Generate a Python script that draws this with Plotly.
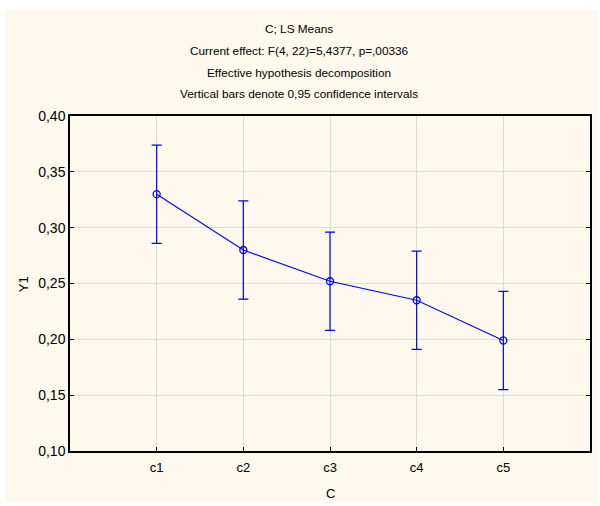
import plotly.graph_objects as go

# LS means of Y1 for each level of factor C, with 95% confidence limits
categories = ["c1", "c2", "c3", "c4", "c5"]
means = [0.330, 0.280, 0.252, 0.235, 0.199]
upper = [0.374, 0.324, 0.296, 0.279, 0.243]
lower = [0.286, 0.236, 0.208, 0.191, 0.155]
y_ticks = [0.10, 0.15, 0.20, 0.25, 0.30, 0.35, 0.40]

title_lines = [
    "C; LS Means",
    "Current effect: F(4, 22)=5,4377, p=,00336",
    "Effective hypothesis decomposition",
    "Vertical bars denote 0,95 confidence intervals",
]
x_title = "C"
y_title = "Y1"

x_pos = list(range(1, len(categories) + 1))
err_plus = [u - m for u, m in zip(upper, means)]
err_minus = [m - l for m, l in zip(means, lower)]

W, H = 600, 506
ML, MR, MT, MB = 70, 8, 116, 55
pw, ph = W - ML - MR, H - MT - MB

def px_x(v):
    return (v - ML) / pw

def px_y(v):
    return (H - MB - v) / ph

BLUE = "#0000FF"
FONT = "Liberation Sans, Arial, sans-serif"

fig = go.Figure()
fig.add_trace(go.Scatter(
    x=x_pos, y=means,
    mode="lines+markers",
    line=dict(color=BLUE, width=1.1),
    marker=dict(symbol="circle-open", size=7, color=BLUE, line=dict(width=1.3, color=BLUE)),
    error_y=dict(type="data", symmetric=False, array=err_plus, arrayminus=err_minus,
                 color=BLUE, thickness=1.2, width=5),
    showlegend=False,
    hoverinfo="skip",
))

# cream panel behind the whole chart
fig.add_shape(type="rect", xref="paper", yref="paper", layer="below",
              x0=px_x(5), x1=px_x(600), y0=px_y(503), y1=px_y(10),
              fillcolor="#FDF9EE", line=dict(width=0))

for i, line in enumerate(title_lines):
    fig.add_annotation(text=line, xref="paper", yref="paper",
                       x=px_x(300), y=px_y(29 + i * 21.8),
                       showarrow=False, xanchor="center", yanchor="middle",
                       font=dict(family=FONT, size=11.8, color="#000000"))

fig.add_annotation(text=x_title, xref="paper", yref="paper",
                   x=px_x(331), y=px_y(493), showarrow=False,
                   xanchor="center", yanchor="middle",
                   font=dict(family=FONT, size=13, color="#000000"))
fig.add_annotation(text=y_title, xref="paper", yref="paper",
                   x=px_x(23), y=px_y(284), showarrow=False, textangle=-90,
                   xanchor="center", yanchor="middle",
                   font=dict(family=FONT, size=13, color="#000000"))

fig.update_layout(
    width=W, height=H,
    margin=dict(l=ML, r=MR, t=MT, b=MB, pad=0),
    paper_bgcolor="#FFFFFF",
    plot_bgcolor="#FFFFFF",
    separators=", ",
    font=dict(family=FONT, size=13, color="#000000"),
)

fig.update_xaxes(
    range=[0, 6], tickmode="array", tickvals=x_pos, ticktext=categories,
    showgrid=True, gridcolor="#DCDCDC", gridwidth=1,
    showline=True, linecolor="#000000", linewidth=1.5, mirror=True,
    ticks="inside", ticklen=4, tickcolor="#000000",
    ticklabelstandoff=4,
    zeroline=False,
    tickfont=dict(size=13),
)
fig.update_yaxes(
    range=[0.10, 0.40], tickmode="array", tickvals=y_ticks, tickformat=".2f",
    showgrid=True, gridcolor="#DCDCDC", gridwidth=1,
    showline=True, linecolor="#000000", linewidth=1.5, mirror="ticks",
    ticks="inside", ticklen=4, tickcolor="#000000",
    zeroline=False,
    tickfont=dict(size=14),
)

fig.write_html("out.html")
